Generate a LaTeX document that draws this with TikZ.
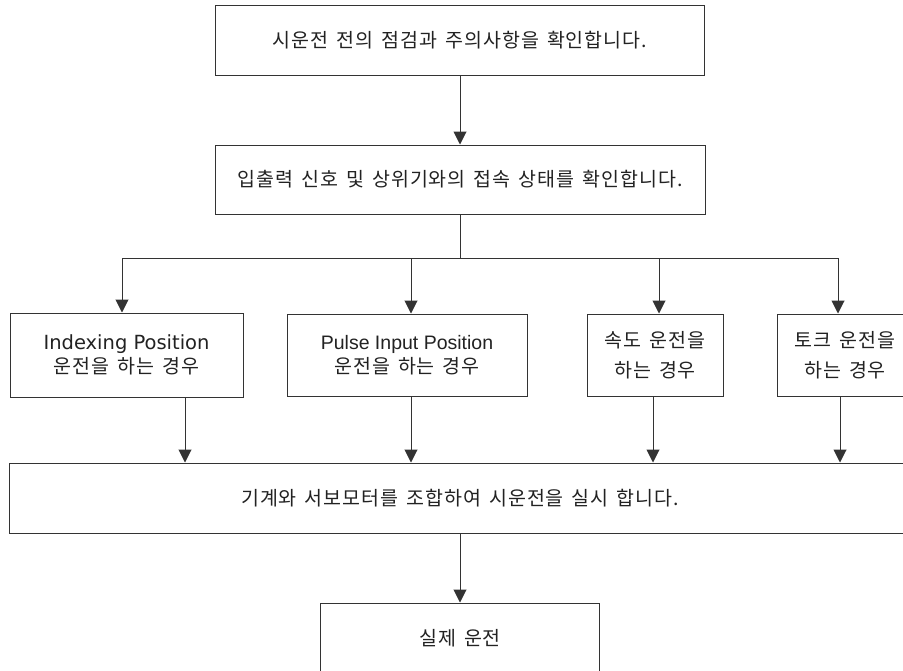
\documentclass[tikz,border=0pt]{standalone}
\usepackage{fontspec}
\setmainfont{Noto Sans CJK KR}[LetterSpace=5,WordSpace=1.5]
\newfontfamily\latinA{DejaVu Sans}
\newfontfamily\latinB{Liberation Sans}
\usetikzlibrary{arrows.meta}
\definecolor{tcink}{HTML}{222222}
\definecolor{tcline}{HTML}{333333}
\tikzset{
  tc box/.style={draw=tcline, line width=1pt, fill=white, align=center,
    text=tcink, inner sep=0pt, font=\fontsize{19.5}{30}\selectfont},
  tc mixed/.style={tc box, font=\fontsize{19.5}{24}\selectfont},
  tc flow/.style={-{Triangle[length=13pt,width=13pt]}, line width=1pt,
    draw=tcline},
  tc line/.style={line width=1pt, draw=tcline}
}

\begin{document}
\begin{tikzpicture}[x=1pt, y=-1pt]
  \useasboundingbox (0,0) rectangle (903,670);
  \node[tc box, minimum width=489pt, minimum height=70pt] (pre) at (460,40)
    {시운전 전의 점검과 주의사항을 확인합니다.};
  \node[tc box, minimum width=490pt, minimum height=69pt] (chk) at (460,179.5)
    {입출력 신호 및 상위기와의 접속 상태를 확인합니다.};
  \node[tc mixed, minimum width=233pt, minimum height=84pt] (ia) at (126.5,355)
    {{\fontsize{19.5}{24}\selectfont\latinA Indexing Position}\\운전을 하는 경우};
  \node[tc mixed, minimum width=240pt, minimum height=82pt] (pp) at (407,355)
    {{\fontsize{19.5}{24}\selectfont\latinB Pulse Input Position}\\운전을 하는 경우};
  \node[tc box, minimum width=136pt, minimum height=82pt] (sp) at (655,355)
    {속도 운전을\\하는 경우};
  \node[tc box, minimum width=136pt, minimum height=82pt] (tq) at (845,355)
    {토크 운전을\\하는 경우};
  \node[tc box, minimum width=902pt, minimum height=70pt] (run) at (460,498)
    {기계와 서보모터를 조합하여 시운전을 실시 합니다.};
  \node[tc box, minimum width=279pt, minimum height=70pt] (real) at (460,638)
    {실제 운전};

  % branch points
  \coordinate (bus) at (460,258);
  \coordinate (ia in) at (122,258);
  \coordinate (pp in) at (411,258);
  \coordinate (sp in) at (659,258);
  \coordinate (tq in) at (838,258);
  \coordinate (ia out) at (185,0);
  \coordinate (pp out) at (411,0);
  \coordinate (sp out) at (653,0);
  \coordinate (tq out) at (840,0);

  \draw[tc flow] (pre) -- (chk);
  \draw[tc line] (chk) -- (bus);
  \draw[tc line] (ia in) -- (tq in);
  \draw[tc flow] (ia in) -- (ia in |- ia.north);
  \draw[tc flow] (pp in) -- (pp in |- pp.north);
  \draw[tc flow] (sp in) -- (sp in |- sp.north);
  \draw[tc flow] (tq in) -- (tq in |- tq.north);
  \draw[tc flow] (ia.south -| ia out) -- (run.north -| ia out);
  \draw[tc flow] (pp.south -| pp out) -- (run.north -| pp out);
  \draw[tc flow] (sp.south -| sp out) -- (run.north -| sp out);
  \draw[tc flow] (tq.south -| tq out) -- (run.north -| tq out);
  \draw[tc flow] (run) -- (real);
\end{tikzpicture}
\end{document}
